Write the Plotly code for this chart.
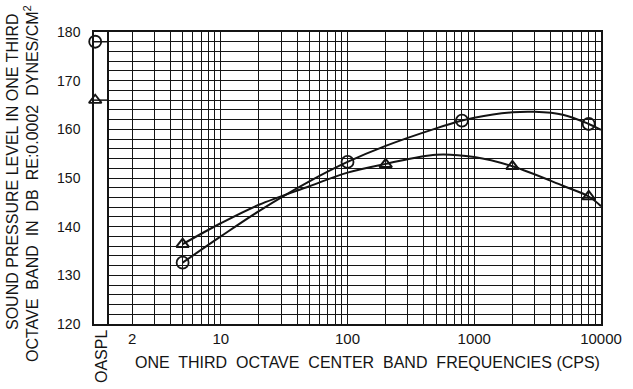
import plotly.graph_objects as go

# ---------------- data ----------------
oaspl_label = "OASPL"
oaspl_circle_db = [178]
oaspl_triangle_db = [166]

circle_freq = [5, 100, 800, 8000]
circle_db = [132.6, 153.3, 161.8, 161.1]

triangle_freq = [5, 200, 2000, 8000]
triangle_db = [136.4, 152.8, 152.4, 146.2]

upper_curve_freq = [5, 10, 20, 50, 100, 200, 500, 800, 1000, 2000, 3000, 5000, 8000, 10000]
upper_curve_db = [132.6, 138.0, 143.2, 149.3, 153.3, 156.6, 160.2, 161.8, 162.4, 163.5, 163.6, 163.0, 161.1, 159.9]

lower_curve_freq = [5, 10, 20, 50, 100, 200, 500, 1000, 2000, 5000, 8000, 10000]
lower_curve_db = [136.4, 140.7, 144.5, 148.3, 151.1, 152.9, 154.8, 154.3, 152.4, 148.4, 146.2, 144.2]

x_label_vals = [2, 10, 100, 1000, 10000]
x_label_text = ["2", "10", "100", "1000", "10000"]
grid_decades = [1, 10, 100, 1000]
grid_multipliers = [2, 3, 4, 5, 6, 7, 8, 9, 10]
y_label_vals = [120, 130, 140, 150, 160, 170, 180]

y_title_1 = "SOUND PRESSURE LEVEL IN ONE THIRD"
y_title_2 = "OCTAVE  BAND  IN  DB  RE:0.0002  DYNES/CM<sup>2</sup>"
x_title = "ONE  THIRD  OCTAVE  CENTER  BAND  FREQUENCIES (CPS)"

# ---------------- layout geometry ----------------
W, H = 633, 389
ML, MR, MT, MB = 94, 32, 32, 65
PW = W - ML - MR
PH = H - MT - MB
split = (109 - ML) / PW

FONT = "Liberation Sans"
INK = "#141414"

grid_vals = [d * m for d in grid_decades for m in grid_multipliers if d * m not in x_label_vals]

fig = go.Figure()

# curves
fig.add_trace(go.Scatter(x=upper_curve_freq, y=upper_curve_db, mode="lines",
                         line=dict(color=INK, width=2, shape="spline", smoothing=1.0),
                         xaxis="x", yaxis="y", hoverinfo="skip", showlegend=False))
fig.add_trace(go.Scatter(x=lower_curve_freq, y=lower_curve_db, mode="lines",
                         line=dict(color=INK, width=2, shape="spline", smoothing=1.0),
                         xaxis="x", yaxis="y", hoverinfo="skip", showlegend=False))
# markers
fig.add_trace(go.Scatter(x=circle_freq, y=circle_db, mode="markers",
                         marker=dict(symbol="circle-open", size=12, color=INK, line=dict(width=1.8)),
                         xaxis="x", yaxis="y", showlegend=False))
fig.add_trace(go.Scatter(x=triangle_freq, y=triangle_db, mode="markers",
                         marker=dict(symbol="triangle-up-open", size=11, color=INK, line=dict(width=2)),
                         xaxis="x", yaxis="y", showlegend=False))

# OASPL panel
for val, sym, sz in ((oaspl_circle_db, "circle-open", 12), (oaspl_triangle_db, "triangle-up-open", 11)):
    fig.add_trace(go.Scatter(x=[0, 1], y=val * 2, mode="lines", line=dict(color=INK, width=1.5),
                             xaxis="x2", yaxis="y2", hoverinfo="skip", showlegend=False))
    fig.add_trace(go.Scatter(x=[0.08], y=val, mode="markers", cliponaxis=False,
                             marker=dict(symbol=sym, size=sz, color=INK, line=dict(width=1.8)),
                             xaxis="x2", yaxis="y2", showlegend=False))

axis_line = dict(showline=True, linecolor=INK, linewidth=1.5, zeroline=False)

fig.update_layout(
    width=W, height=H,
    margin=dict(l=ML, r=MR, t=MT, b=MB),
    paper_bgcolor="white", plot_bgcolor="white",
    font=dict(family=FONT, color=INK, size=14),
    xaxis=dict(type="log", domain=[split, 1], range=[0.118, 4.0], anchor="y",
               tickmode="array", tickvals=x_label_vals, ticktext=x_label_text,
               showgrid=True, gridcolor=INK, gridwidth=1.2, ticks="",
               minor=dict(tickmode="array", tickvals=grid_vals, showgrid=True,
                          gridcolor=INK, gridwidth=1.2, ticks=""),
               tickfont=dict(size=15, family=FONT, color=INK), ticklabelstandoff=0,
               mirror=True, **axis_line),
    yaxis=dict(domain=[0, 1], range=[120, 180], anchor="x", tick0=120, dtick=2,
               showgrid=True, gridcolor=INK, gridwidth=1.2, showticklabels=False, ticks="",
               mirror=True, **axis_line),
    xaxis2=dict(domain=[0, split], range=[0, 1], anchor="y2", showgrid=False,
                showticklabels=False, ticks="", mirror=True, **axis_line),
    yaxis2=dict(domain=[0, 1], range=[120, 180], anchor="x2", tickmode="array",
                tickvals=y_label_vals, showgrid=False, ticks="", ticklabelstandoff=9,
                tickfont=dict(size=14, family=FONT, color=INK), mirror=False, **axis_line),
    annotations=[
        dict(text=y_title_1, xref="paper", yref="paper", x=(12.5 - ML) / PW, y=(MT + PH - 171.5) / PH,
             textangle=-90, showarrow=False, xanchor="center", yanchor="middle",
             font=dict(size=16, family=FONT, color=INK)),
        dict(text=y_title_2, xref="paper", yref="paper", x=(31 - ML) / PW, y=(MT + PH - 184) / PH,
             textangle=-90, showarrow=False, xanchor="center", yanchor="middle",
             font=dict(size=16, family=FONT, color=INK)),
        dict(text=x_title, xref="paper", yref="paper", x=(367 - ML) / PW, y=(MT + PH - 362) / PH,
             showarrow=False, xanchor="center", yanchor="middle",
             font=dict(size=16, family=FONT, color=INK)),
        dict(text=oaspl_label, xref="paper", yref="paper", x=(102 - ML) / PW, y=(MT + PH - 357) / PH,
             textangle=-90, showarrow=False, xanchor="center", yanchor="middle",
             font=dict(size=16, family=FONT, color=INK)),
    ],
)

fig.write_html("out.html", config={"displayModeBar": False},
               post_script="document.body.style.margin='0';")
